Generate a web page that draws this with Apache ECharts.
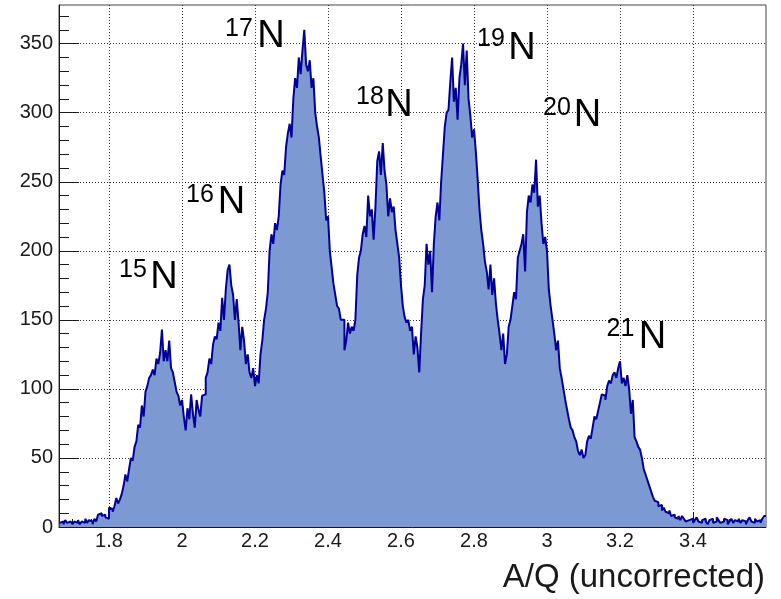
<!DOCTYPE html>
<html>
<head>
<meta charset="utf-8">
<script src="https://cdn.jsdelivr.net/npm/echarts@6/dist/echarts.min.js"></script>
<style>
  html, body { margin: 0; padding: 0; background: #ffffff; }
  #chart { width: 781px; height: 599px; }
</style>
</head>
<body>
<div id="chart"></div>
<script>
// Histogram of A/Q for nitrogen isotopes: bins of 0.005 starting at 1.665
const binStart = 1.665;
const binWidth = 0.005;
const counts = [
  3,4,2,5,3,4,3,2,4,3,
  5,2,4,3,6,3,5,4,2,6,
  4,9,10,8,9,7,6,14,13,11,
  15,21,17,20,24,30,38,33,42,50,
  48,58,62,74,72,88,80,98,102,108,
  110,114,110,122,118,126,143,120,128,120,
  135,115,112,105,98,95,88,92,80,70,
  86,78,96,82,72,92,85,80,95,96,
  108,112,122,118,132,138,136,148,142,166,
  150,172,186,190,175,168,150,165,148,128,
  145,135,118,125,112,108,115,102,110,104,
  125,135,150,158,170,200,212,205,220,215,
  225,248,258,255,275,285,292,282,310,325,
  318,340,328,345,360,335,330,338,318,325,
  300,290,282,268,255,242,222,225,200,188,
  176,168,160,158,150,150,128,135,148,140,
  145,142,150,182,195,200,212,218,210,240,
  225,230,208,232,265,272,255,278,258,248,
  225,238,228,232,215,205,195,175,160,152,
  148,150,142,145,125,138,130,112,140,165,
  175,205,190,200,170,205,225,235,222,250,
  270,290,300,302,322,340,308,318,295,325,
  335,350,320,345,310,298,282,288,272,252,
  230,215,205,192,185,172,190,168,180,162,
  150,140,128,140,118,125,145,150,160,170,
  165,195,200,205,212,185,228,240,235,248,
  242,266,232,240,220,205,210,200,172,160,
  150,140,128,135,115,108,100,92,85,78,
  72,70,65,62,55,52,56,50,52,62,
  66,64,72,80,78,84,90,96,95,92,
  102,106,104,110,112,108,115,120,104,108,
  102,110,100,82,92,65,62,58,56,50,
  42,38,34,30,26,22,19,18,15,16,
  12,14,11,10,12,8,9,7,6,8,
  5,8,6,4,5,4,6,3,5,7,
  4,3,5,6,4,2,5,6,3,4,
  7,5,3,4,6,5,2,4,6,3,
  5,4,6,3,5,4,2,5,7,4,
  3,6,4,5,3,6,8
];

// Axis ticks
const xMajorTicks = [1.8, 2, 2.2, 2.4, 2.6, 2.8, 3, 3.2, 3.4];
const xMinorTicks = [1.7, 1.75, 1.85, 1.9, 1.95, 2.05, 2.1, 2.15, 2.25, 2.3, 2.35,
  2.45, 2.5, 2.55, 2.65, 2.7, 2.75, 2.85, 2.9, 2.95, 3.05, 3.1, 3.15,
  3.25, 3.3, 3.35, 3.45, 3.5, 3.55];
const yMajorTicks = [0, 50, 100, 150, 200, 250, 300, 350];
const yMinorTicks = [10, 20, 30, 40, 60, 70, 80, 90, 110, 120, 130, 140, 160, 170, 180, 190,
  210, 220, 230, 240, 260, 270, 280, 290, 310, 320, 330, 340, 360, 370];

// Isotope annotations (mass number, element)
const isotopeMass = ['15', '16', '17', '18', '19', '20', '21'];
const isotopeElement = 'N';
const xTitle = 'A/Q (uncorrected)';

const X_MIN = 1.663, X_MAX = 3.6, Y_MIN = 0, Y_MAX = 378;
const FONT = '"Liberation Sans", Arial, Helvetica, sans-serif';
const INK = '#1a1a1a';

// step outline: each bin is a point at its lower edge, plus the closing upper edge
const histPoints = counts.map((c, i) => [+(binStart + i * binWidth).toFixed(4), c]);
histPoints.push([+(binStart + counts.length * binWidth).toFixed(4), counts[counts.length - 1]]);

// label anchors in pixels: [superscript centre x, y, symbol centre x, y]
const labelLayout = [
  [133, 270, 164, 278],
  [200, 195, 231.5, 203],
  [239, 29, 271, 37],
  [370, 97, 399, 106],
  [491, 39, 522, 49],
  [557, 108, 587.5, 116],
  [620.5, 329, 652.5, 338]
];

const graphics = [];
isotopeMass.forEach((m, k) => {
  const p = labelLayout[k];
  graphics.push({
    type: 'text', silent: true, z: 100,
    style: { text: m, x: p[0], y: p[1], font: '25px ' + FONT, fill: '#000', align: 'center', verticalAlign: 'middle' }
  });
  graphics.push({
    type: 'text', silent: true, z: 100,
    style: { text: isotopeElement, x: p[2], y: p[3], font: '38px ' + FONT, fill: '#000', align: 'center', verticalAlign: 'middle' }
  });
});
graphics.push({
  type: 'text', silent: true, z: 100,
  style: { text: xTitle, x: 765, y: 578, font: '33px ' + FONT, fill: INK, align: 'right', verticalAlign: 'middle' }
});

const gridLine = { show: true, lineStyle: { color: '#333', width: 1, type: [1, 2] } };

const chart = echarts.init(document.getElementById('chart'), null, { renderer: 'canvas' });
chart.setOption({
  animation: false,
  backgroundColor: '#ffffff',
  grid: {
    left: 59, top: 5, width: 707, height: 522,
    show: true, borderColor: '#444', borderWidth: 1, backgroundColor: 'transparent',
    containLabel: false, outerBoundsMode: 'none'
  },
  xAxis: [
    {
      type: 'value', min: X_MIN, max: X_MAX, position: 'bottom',
      axisLine: { show: true, onZero: false, lineStyle: { color: INK, width: 1 } },
      axisTick: { show: true, inside: true, length: 15, customValues: xMajorTicks, lineStyle: { color: INK, width: 1 } },
      axisLabel: {
        show: true, customValues: xMajorTicks, margin: 4,
        fontSize: 20, fontFamily: FONT, color: INK,
        formatter: v => String(+v.toFixed(2))
      },
      splitLine: gridLine,
      minorTick: { show: false }
    },
    {
      type: 'value', min: X_MIN, max: X_MAX, position: 'bottom',
      axisLine: { show: false },
      axisTick: { show: true, inside: true, length: 8, customValues: xMinorTicks, lineStyle: { color: INK, width: 1 } },
      axisLabel: { show: false },
      splitLine: { show: false }
    }
  ],
  yAxis: [
    {
      type: 'value', min: Y_MIN, max: Y_MAX, position: 'left',
      axisLine: { show: true, onZero: false, lineStyle: { color: INK, width: 1 } },
      axisTick: { show: true, inside: true, length: 20, customValues: yMajorTicks, lineStyle: { color: INK, width: 1 } },
      axisLabel: {
        show: true, customValues: yMajorTicks, margin: 6,
        fontSize: 20, fontFamily: FONT, color: INK
      },
      splitLine: gridLine,
      minorTick: { show: false }
    },
    {
      type: 'value', min: Y_MIN, max: Y_MAX, position: 'left',
      axisLine: { show: false },
      axisTick: { show: true, inside: true, length: 10, customValues: yMinorTicks, lineStyle: { color: INK, width: 1 } },
      axisLabel: { show: false },
      splitLine: { show: false }
    }
  ],
  series: [
    {
      type: 'line',
      xAxisIndex: 0, yAxisIndex: 0,
      data: histPoints,
      step: 'end',
      symbol: 'none', showSymbol: false,
      lineStyle: { color: '#000099', width: 2 },
      areaStyle: { color: '#7d99d1', opacity: 1 },
      silent: true, z: 2
    }
  ],
  graphic: graphics
});
</script>
</body>
</html>
